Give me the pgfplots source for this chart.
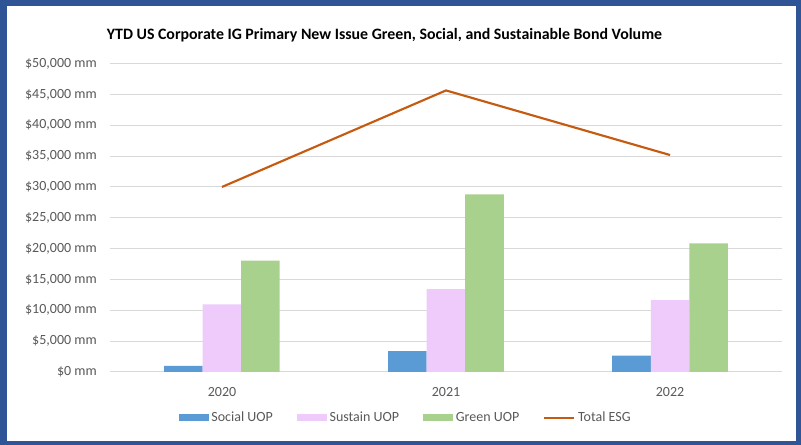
\documentclass[border=0pt]{standalone}
\usepackage{pgfplots}
\pgfplotsset{compat=1.18}
\usepackage{fontspec}
\setmainfont{Carlito}
\definecolor{frameblue}{HTML}{2F5597}
\definecolor{social}{HTML}{5B9BD5}
\definecolor{sustain}{HTML}{EECBFB}
\definecolor{greenuop}{HTML}{A9D18E}
\definecolor{esg}{HTML}{C55A11}
\definecolor{gridc}{HTML}{D9D9D9}
\definecolor{txt}{HTML}{595959}
\begin{document}
\begin{tikzpicture}[x=0.75pt,y=0.75pt]
\fill[frameblue] (0,0) rectangle (801,445);
\fill[white] (7,4) rectangle (796,439);
\node[font=\fontsize{11.9}{13}\selectfont\bfseries, text=black] at (384.5,410) {YTD US Corporate IG Primary New Issue Green, Social, and Sustainable Bond Volume};
\begin{axis}[
  at={(82.5pt,54.75pt)}, anchor=south west,
  scale only axis, width=504pt, height=231.3pt,
  xmin=-0.5, xmax=2.5, ymin=0, ymax=50000,
  axis line style={draw=none},
  major tick length=0pt,
  scaled ticks=false,
  ymajorgrids, major grid style={gridc, line width=0.75pt},
  xtick={0,1,2}, xticklabels={2020,2021,2022},
  ytick={0,5000,...,50000},
  yticklabels={{\$0 mm},{\$5,000 mm},{\$10,000 mm},{\$15,000 mm},{\$20,000 mm},{\$25,000 mm},{\$30,000 mm},{\$35,000 mm},{\$40,000 mm},{\$45,000 mm},{\$50,000 mm}},
  tick label style={font=\fontsize{10.5}{12}\selectfont, text=txt},
  yticklabel style={inner sep=0pt, xshift=-9.75pt},
  xticklabel style={inner sep=0pt, yshift=-11pt},
  /pgf/number format/assume math mode=true,
  legend columns=4,
  legend style={at={(0.4405,-0.149)}, anchor=center, draw=none, fill=none,
    font=\fontsize{10.5}{12}\selectfont, text=txt,
    nodes={inner xsep=2pt},
    /tikz/every even column/.append style={column sep=16pt},
    inner sep=0pt},
]
\addplot[ybar, bar width=28.875pt, bar shift=-28.875pt, fill=social, draw=none,
  legend image code/.code={\fill[social] (0pt,-2.6pt) rectangle (22.5pt,2.6pt);}]
  coordinates {(0,1000) (1,3400) (2,2650)};
\addlegendentry{Social UOP}
\addplot[ybar, bar width=28.875pt, bar shift=0pt, fill=sustain, draw=none,
  legend image code/.code={\fill[sustain] (0pt,-2.6pt) rectangle (22.5pt,2.6pt);}]
  coordinates {(0,10950) (1,13450) (2,11670)};
\addlegendentry{Sustain UOP}
\addplot[ybar, bar width=28.875pt, bar shift=28.875pt, fill=greenuop, draw=none,
  legend image code/.code={\fill[greenuop] (0pt,-2.6pt) rectangle (22.5pt,2.6pt);}]
  coordinates {(0,18050) (1,28800) (2,20860)};
\addlegendentry{Green UOP}
\addplot[sharp plot, esg, line width=1.6pt, mark=none,
  legend image code/.code={\draw[esg, line width=1.6pt] (0pt,0pt) -- (22.5pt,0pt);}]
  coordinates {(0,30000) (1,45650) (2,35180)};
\addlegendentry{Total ESG}
\end{axis}
\end{tikzpicture}
\end{document}
